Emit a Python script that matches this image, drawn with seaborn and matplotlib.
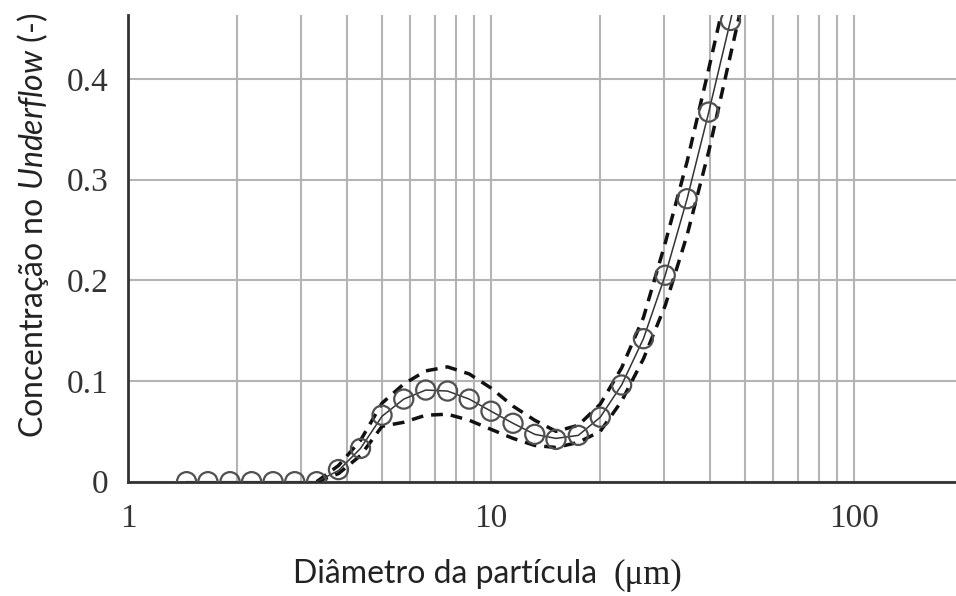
import matplotlib
matplotlib.use("Agg")
import matplotlib.pyplot as plt
import seaborn as sns
import pandas as pd

# Particle size classes (µm) and measured underflow concentration
diameter = [1.45, 1.66, 1.91, 2.19, 2.51, 2.88, 3.31, 3.80, 4.37, 5.01,
            5.75, 6.61, 7.59, 8.71, 10.0, 11.5, 13.2, 15.1, 17.4, 20.0,
            22.9, 26.3, 30.2, 34.7, 39.8, 45.7]
concentration = [0.0, 0.0, 0.0, 0.0, 0.0, 0.0, 0.0, 0.012, 0.033, 0.066,
                 0.082, 0.091, 0.090, 0.082, 0.070, 0.058, 0.047, 0.042, 0.046, 0.064,
                 0.096, 0.142, 0.205, 0.281, 0.367, 0.458]

# Fitted model and its confidence band
fit_diameter = [1.45, 1.66, 1.91, 2.19, 2.51, 2.88, 3.31, 3.80, 4.37, 5.01,
                5.75, 6.61, 7.59, 8.71, 10.0, 11.5, 13.2, 15.1, 17.4, 20.0,
                22.9, 26.3, 30.2, 34.7, 39.8, 45.7, 52.5]
model_fit = [0.0, 0.0, 0.0, 0.0, 0.0, 0.0, 0.0, 0.011, 0.033, 0.065,
             0.082, 0.091, 0.090, 0.082, 0.070, 0.058, 0.047, 0.043, 0.046, 0.064,
             0.096, 0.142, 0.205, 0.281, 0.367, 0.458, 0.555]
band_diameter = [3.31, 3.80, 4.37, 5.01, 5.75, 6.61, 7.59, 8.71, 10.0, 11.5,
                 13.2, 15.1, 17.4, 20.0, 22.9, 26.3, 30.2, 34.7, 39.8, 45.7, 52.5]
band_upper = [0.0, 0.016, 0.041, 0.078, 0.097, 0.110, 0.114, 0.107, 0.093, 0.075,
              0.061, 0.050, 0.056, 0.077, 0.113, 0.163, 0.237, 0.318, 0.410, 0.505,
              0.600]
band_lower = [0.0, 0.008, 0.026, 0.055, 0.059, 0.066, 0.067, 0.061, 0.052, 0.043,
              0.036, 0.034, 0.039, 0.050, 0.080, 0.122, 0.175, 0.245, 0.328, 0.424,
              0.520]

x_ticks = [1, 10, 100]
x_tick_labels = ["1", "10", "100"]
y_ticks = [0.0, 0.1, 0.2, 0.3, 0.4]
y_tick_labels = ["0", "0.1", "0.2", "0.3", "0.4"]

points = pd.DataFrame({"d": diameter, "c": concentration})
fit = pd.DataFrame({"d": fit_diameter, "c": model_fit})
band = pd.DataFrame({"d": band_diameter, "up": band_upper, "lo": band_lower})

sns.set_theme(style="white")
plt.rcParams["font.family"] = ["Lato", "DejaVu Sans"]
plt.rcParams["mathtext.fontset"] = "custom"
plt.rcParams["mathtext.rm"] = "Lato"
plt.rcParams["mathtext.it"] = "Lato:italic"

fig = plt.figure(figsize=(9.56, 5.96), dpi=100)
ax = fig.add_axes([0.1339, 0.1918, 0.8661, 0.7830])
ax.set_xscale("log")

grid_kw = dict(color="#b4b4b4", lw=1.5, zorder=0)
ax.grid(True, which="both", axis="x", **grid_kw)
ax.grid(True, which="major", axis="y", **grid_kw)
ax.set_axisbelow(True)

for col in ("up", "lo"):
    sns.lineplot(data=band, x="d", y=col, ax=ax, color="#111111", lw=2.5,
                 linestyle="--", sort=False, zorder=3)
    ax.lines[-1].set_dashes([3.4, 2.3])
sns.lineplot(data=fit, x="d", y="c", ax=ax, color="#333333", lw=1.1,
             sort=False, zorder=4)
sns.scatterplot(data=points, x="d", y="c", ax=ax, marker="o", s=190,
                facecolor="none", edgecolor="#505050", linewidth=1.6,
                zorder=5)

ax.set_xlim(1, 191)
ax.set_ylim(0, 0.4634)
ax.set_xticks(x_ticks)
ax.set_xticklabels(x_tick_labels)
ax.set_yticks(y_ticks)
ax.set_yticklabels(y_tick_labels)

for lab in ax.get_xticklabels() + ax.get_yticklabels():
    lab.set_fontfamily("Liberation Serif")
    lab.set_fontsize(24)
    lab.set_color("#333333")
ax.tick_params(axis="both", which="major", direction="out", length=7,
               width=1.5, color="#333333")
ax.tick_params(axis="x", which="major", pad=9)
ax.tick_params(axis="y", which="major", pad=7)
ax.tick_params(axis="x", which="minor", length=0)

sns.despine(ax=ax, top=True, right=True)
for side in ("left", "bottom"):
    ax.spines[side].set_color("#333333")
    ax.spines[side].set_linewidth(2.0)

ax.set_ylabel("Concentração no $\\mathit{Underflow}$ (-)", fontsize=23,
              color="#222222", va="center")
ax.yaxis.set_label_coords(-0.115, 0.55)
ax.set_xlabel("Diâmetro da partícula", fontsize=23, color="#222222",
              va="center")
ax.xaxis.set_label_coords(0.383, -0.198)
fig.text(648 / 956, 1 - 575 / 596, "(μm)", family="Liberation Serif",
         fontsize=25, color="#222222", ha="center", va="center")

fig.savefig("out.png", dpi=100)
